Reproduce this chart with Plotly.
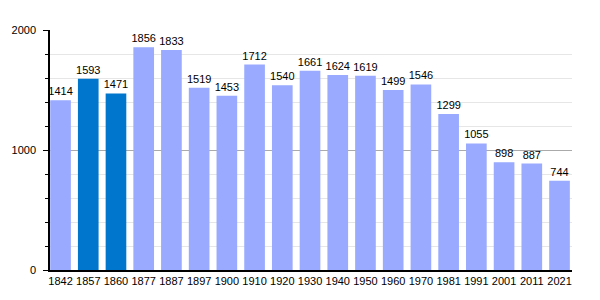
import plotly.graph_objects as go

years = ["1842", "1857", "1860", "1877", "1887", "1897", "1900", "1910", "1920", "1930",
         "1940", "1950", "1960", "1970", "1981", "1991", "2001", "2011", "2021"]
population = [1414, 1593, 1471, 1856, 1833, 1519, 1453, 1712, 1540, 1661,
              1624, 1619, 1499, 1546, 1299, 1055, 898, 887, 744]
highlight = ["1857", "1860"]

colors = ["#0077cc" if y in highlight else "#99aaff" for y in years]

fig = go.Figure()
fig.add_trace(go.Bar(
    x=years, y=population,
    marker=dict(color=colors, line=dict(width=0)),
    text=[str(v) for v in population],
    textposition="outside",
    textfont=dict(family="Liberation Sans, Arial, sans-serif", size=11, color="#000"),
    cliponaxis=False,
    hoverinfo="skip",
))

fig.update_layout(
    width=600, height=300,
    margin=dict(l=50, r=28, t=30, b=30),
    paper_bgcolor="white", plot_bgcolor="white",
    bargap=0.255,
    showlegend=False,
    uniformtext=dict(minsize=11, mode="show"),
    font=dict(family="Liberation Sans, Arial, sans-serif", size=11, color="#000"),
)
fig.update_xaxes(
    type="category",
    range=[-0.38, 18.45],
    showline=True, linecolor="#000", linewidth=1.5,
    ticks="", showgrid=False,
    tickfont=dict(size=11, color="#000"),
    automargin=False,
    fixedrange=True,
)
fig.update_yaxes(
    range=[0, 2000],
    tickvals=[0, 1000, 2000],
    showline=True, linecolor="#000", linewidth=1.5,
    ticks="outside", ticklen=5, tickcolor="#000",
    showgrid=True, gridcolor="#aaaaaa", gridwidth=1,
    zeroline=False,
    minor=dict(dtick=200, showgrid=True, gridcolor="#e6e6e6", ticks="outside",
               ticklen=3, tickcolor="#000"),
    tickfont=dict(size=11, color="#000"),
    ticklabelstandoff=5,
    automargin=False,
    fixedrange=True,
)

fig.write_html("out.html")
